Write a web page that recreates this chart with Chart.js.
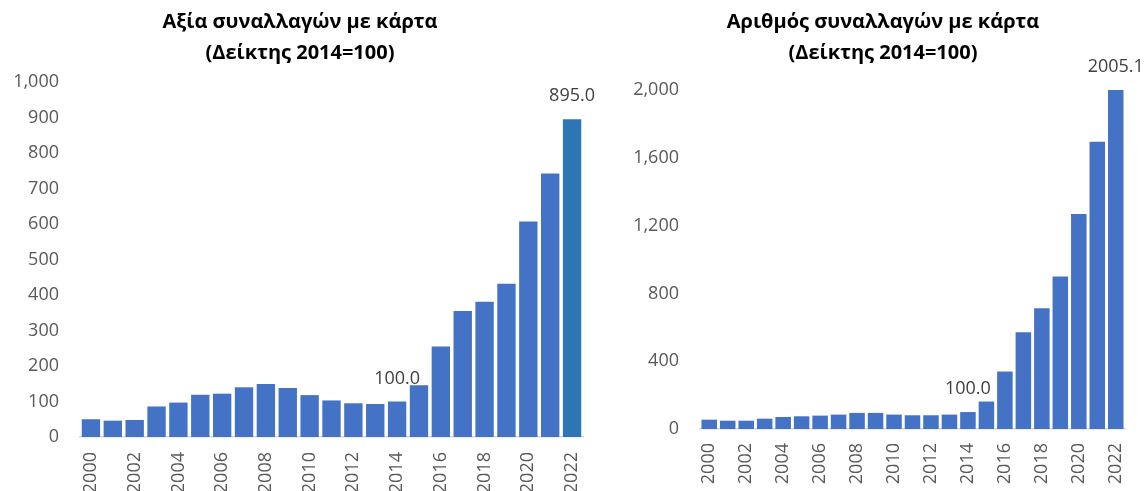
<!DOCTYPE html>
<html>
<head>
<meta charset="utf-8">
<script src="https://cdn.jsdelivr.net/npm/chart.js@4/dist/chart.umd.min.js"></script>
<style>
  html, body { margin: 0; padding: 0; background: #fff; }
  .panel { position: absolute; top: 0; height: 491px; }
  #left-panel { left: 0; width: 600px; }
  #right-panel { left: 619px; width: 528px; }
</style>
</head>
<body>
<div class="panel" id="left-panel"><canvas id="value-chart"></canvas></div>
<div class="panel" id="right-panel"><canvas id="count-chart"></canvas></div>
<script>
// Chart data
const years = ['2000', '2001', '2002', '2003', '2004', '2005', '2006', '2007', '2008', '2009', '2010', '2011',
  '2012', '2013', '2014', '2015', '2016', '2017', '2018', '2019', '2020', '2021', '2022'];
const valueIndex = [50, 46, 48, 86, 97, 119, 122, 140, 149, 138, 118, 103,
  95, 93, 100, 146, 255, 355, 381, 432, 607, 742, 895.0];
const countIndex = [55, 49, 49, 61, 71, 75, 79, 85, 95, 95, 85, 81,
  81, 85, 100, 162, 339, 571, 713, 899, 1269, 1695, 2005.1];
const labelledYears = ['2014', '2022'];
const valueTitle = ['Αξία συναλλαγών με κάρτα', '(Δείκτης 2014=100)'];
const countTitle = ['Αριθμός συναλλαγών με κάρτα', '(Δείκτης 2014=100)'];

const FONT = "'Open Sans', 'Noto Sans', sans-serif";
const BAR_BLUE = '#4472C4';

/**
 * Draws the value above the bars of the labelled years.
 */
const valueLabels = {
  id: 'valueLabels',
  afterDatasetsDraw(chart) {
    const ctx = chart.ctx;
    const meta = chart.getDatasetMeta(0);
    const data = chart.data.datasets[0].data;
    ctx.save();
    ctx.font = `18px ${FONT}`;
    ctx.fillStyle = '#404040';
    ctx.textAlign = 'center';
    ctx.textBaseline = 'middle';
    chart.data.labels.forEach((year, i) => {
      if (!labelledYears.includes(year)) return;
      const bar = meta.data[i];
      const top = Math.max(bar.y, chart.chartArea.top);
      ctx.fillText(data[i].toFixed(1), bar.x, top - 23);
    });
    ctx.restore();
  }
};

/**
 * Builds the config for one panel. The layout numbers pin the plot area
 * to where it sits in the reference.
 */
function makeConfig(title, values, colors, opts) {
  return {
    type: 'bar',
    data: {
      labels: years,
      datasets: [{
        data: values,
        backgroundColor: colors,
        categoryPercentage: 1,
        barPercentage: 0.84
      }]
    },
    options: {
      responsive: true,
      maintainAspectRatio: false,
      animation: false,
      layout: { padding: 0 },
      plugins: {
        legend: { display: false },
        tooltip: { enabled: false },
        title: {
          display: true,
          text: title,
          color: '#000',
          font: { family: FONT, size: 20, weight: 'bold', lineHeight: 1.55 },
          padding: { top: 7, bottom: opts.titleGap }
        }
      },
      scales: {
        x: {
          grid: { display: false, drawTicks: false },
          border: { display: true, color: '#D9D9D9', width: 1.5 },
          ticks: {
            autoSkip: false,
            minRotation: 90,
            maxRotation: 90,
            padding: opts.xPad,
            color: '#595959',
            font: { family: FONT, size: 18 },
            callback: (v, i) => (i % 2 === 0 ? years[i] : '')
          },
          afterFit: s => {
            s.height = opts.xHeight;
            s.paddingLeft = 0;
            s.paddingRight = opts.padRight;
          }
        },
        y: {
          min: 0,
          max: opts.max,
          grid: { display: false, drawTicks: false },
          border: { display: false },
          ticks: {
            stepSize: opts.step,
            padding: 21,
            color: '#595959',
            font: { family: FONT, size: 18 },
            callback: v => v.toLocaleString('en-US')
          },
          afterFit: s => {
            s.width = opts.yWidth;
            s.paddingTop = 0;
            s.paddingBottom = 0;
          }
        }
      }
    },
    plugins: [valueLabels]
  };
}

document.addEventListener('DOMContentLoaded', () => {
  const valueColors = years.map(y => (y === '2022' ? '#2E75B6' : BAR_BLUE));
  new Chart(document.getElementById('value-chart'),
    makeConfig(valueTitle, valueIndex, valueColors,
      { max: 1000, step: 100, padRight: 17, titleGap: 13, xHeight: 54, xPad: 15, yWidth: 80 }));

  new Chart(document.getElementById('count-chart'),
    makeConfig(countTitle, countIndex, BAR_BLUE,
      { max: 2000, step: 400, padRight: 22, titleGap: 21, xHeight: 62, xPad: 14, yWidth: 81 }));
});
</script>
</body>
</html>
